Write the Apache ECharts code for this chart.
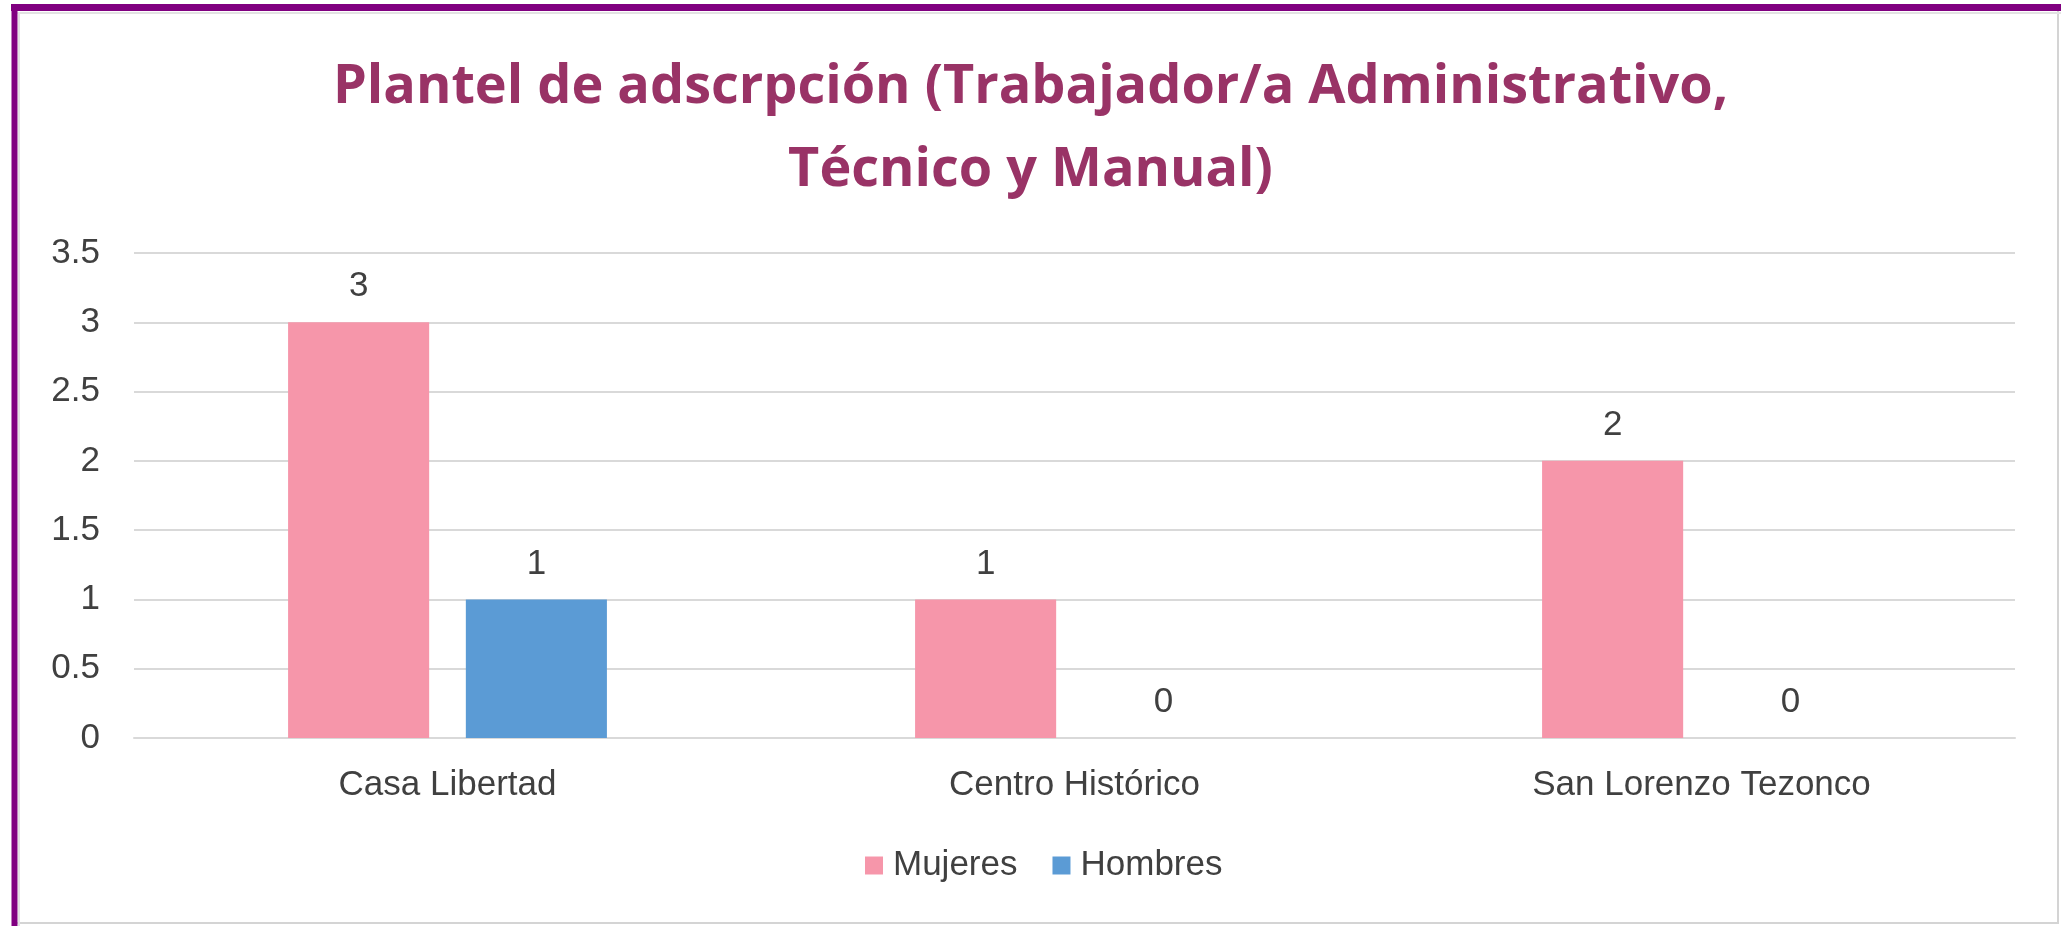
<!DOCTYPE html>
<html lang="es" style="height: 100%">
<head>
  <meta charset="utf-8" />
  <title>Plantel de adscrpción</title>
</head>
<body style="height: 100%; margin: 0">
  <div id="container" style="height: 100%"></div>

  <script type="text/javascript" src="https://fastly.jsdelivr.net/npm/echarts@6.0.0/dist/echarts.min.js"></script>
  <script type="text/javascript">
    // datos
    var categorias = ['Casa Libertad', 'Centro Histórico', 'San Lorenzo Tezonco'];
    var mujeres = [3, 1, 2];
    var hombres = [1, 0, 0];
    var seriesNames = ['Mujeres', 'Hombres'];

    var dom = document.getElementById('container');
    var myChart = echarts.init(dom, null, { renderer: 'canvas' });
    var option;

    var labelStyle = {
      show: true,
      position: 'top',
      distance: 18,
      fontFamily: 'Liberation Sans',
      fontSize: 35,
      color: '#404040'
    };

    option = {
      backgroundColor: '#ffffff',
      title: {
        text: 'Plantel de adscrpción (Trabajador/a Administrativo,\nTécnico y Manual)',
        left: 'center',
        top: 46,
        padding: 0,
        textStyle: {
          fontFamily: 'Open Sans',
          fontWeight: 'bold',
          fontSize: 54,
          lineHeight: 83,
          color: '#993366'
        }
      },
      legend: {
        data: seriesNames,
        left: 865,
        top: 848,
        padding: 0,
        itemWidth: 18,
        itemHeight: 18,
        itemGap: 35,
        icon: 'rect',
        textStyle: {
          fontFamily: 'Liberation Sans',
          fontSize: 35,
          color: '#404040',
          padding: [0, 0, 0, 5]
        }
      },
      grid: {
        left: 134,
        right: 46,
        top: 253,
        bottom: 926 - 738,
        containLabel: false
      },
      xAxis: {
        type: 'category',
        data: categorias,
        axisTick: { show: false },
        axisLine: { show: true, lineStyle: { color: '#D9D9D9', width: 2 } },
        axisLabel: {
          margin: 30,
          fontFamily: 'Liberation Sans',
          fontSize: 35,
          color: '#404040'
        }
      },
      yAxis: {
        type: 'value',
        min: 0,
        max: 3.5,
        interval: 0.5,
        axisLine: { show: false },
        axisTick: { show: false },
        splitLine: { lineStyle: { color: '#D9D9D9', width: 2 } },
        axisLabel: {
          margin: 34,
          fontFamily: 'Liberation Sans',
          fontSize: 35,
          color: '#404040'
        }
      },
      series: [
        {
          name: seriesNames[0],
          type: 'bar',
          data: mujeres,
          barWidth: '22.5%',
          barGap: '26%',
          itemStyle: { color: '#F696AA' },
          label: labelStyle
        },
        {
          name: seriesNames[1],
          type: 'bar',
          data: hombres,
          barWidth: '22.5%',
          barGap: '26%',
          itemStyle: { color: '#5B9BD5' },
          label: labelStyle
        }
      ],
      graphic: [
        // marco del grafico
        { type: 'line', shape: { x1: 2058, y1: 11, x2: 2058, y2: 924 }, style: { stroke: '#D4D4D4', lineWidth: 2 } },
        { type: 'line', shape: { x1: 14, y1: 923, x2: 2058, y2: 923 }, style: { stroke: '#D4D4D4', lineWidth: 2 } },
        { type: 'line', shape: { x1: 19, y1: 13, x2: 19, y2: 926 }, style: { stroke: '#E2E2E2', lineWidth: 2 } },
        { type: 'line', shape: { x1: 14, y1: 13, x2: 2061, y2: 13 }, style: { stroke: '#E2E2E2', lineWidth: 2 } },
        { type: 'line', shape: { x1: 14.5, y1: 4, x2: 14.5, y2: 926 }, style: { stroke: '#800080', lineWidth: 6 } },
        { type: 'line', shape: { x1: 11, y1: 7.5, x2: 2061, y2: 7.5 }, style: { stroke: '#800080', lineWidth: 7 } }
      ]
    };

    myChart.setOption(option);
    window.addEventListener('resize', myChart.resize);
  </script>
</body>
</html>
